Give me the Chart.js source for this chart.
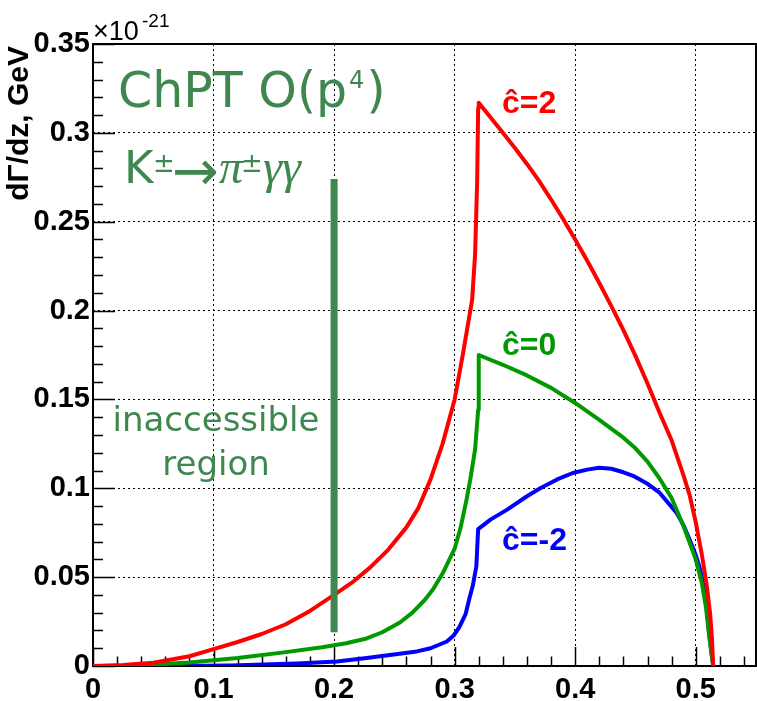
<!DOCTYPE html>
<html><head><meta charset="utf-8">
<script src="https://cdn.jsdelivr.net/npm/chart.js@4.4.1/dist/chart.umd.min.js"></script>
<style>html,body{margin:0;padding:0;background:#fff;overflow:hidden}#wrap{width:757px;height:701px;position:relative}</style>
</head><body><div id="wrap"><canvas id="c" width="757" height="701"></canvas></div>
<script>
// ---- axis definitions ----
const xTicks = [0, 0.1, 0.2, 0.3, 0.4, 0.5];
const xTickLabels = ['0', '0.1', '0.2', '0.3', '0.4', '0.5'];
const yTicks = [0, 0.05, 0.1, 0.15, 0.2, 0.25, 0.3, 0.35];
const yTickLabels = ['0', '0.05', '0.1', '0.15', '0.2', '0.25', '0.3', '0.35'];
const xRange = [0, 0.55];
const yRange = [0, 0.35];
const xMinorStep = 0.02;
const yMinorStep = 0.01;

// ---- series: c^ = 2 (red) ----
const zC2 = [0, 0.025, 0.05, 0.08, 0.10, 0.12, 0.14, 0.16, 0.18, 0.20, 0.215, 0.23, 0.245, 0.26, 0.27, 0.28, 0.29, 0.30, 0.307, 0.3145, 0.317, 0.3187, 0.3195, 0.320,
             0.33, 0.34, 0.35, 0.36, 0.37, 0.38, 0.39, 0.40, 0.41, 0.42, 0.43, 0.44, 0.45, 0.46, 0.47, 0.48, 0.49, 0.495, 0.50, 0.505, 0.509, 0.512, 0.5135, 0.5145];
const yC2 = [0, 0.0006, 0.0018, 0.0055, 0.0095, 0.0135, 0.018, 0.0235, 0.031, 0.040, 0.047, 0.0555, 0.0655, 0.078, 0.089, 0.105, 0.125, 0.150, 0.176, 0.206, 0.232, 0.273, 0.314, 0.317,
             0.3085, 0.300, 0.2915, 0.2825, 0.273, 0.2625, 0.2515, 0.240, 0.228, 0.2155, 0.2025, 0.189, 0.1745, 0.159, 0.1425, 0.127, 0.107, 0.096, 0.081, 0.063, 0.046, 0.029, 0.015, 0];

// ---- series: c^ = 0 (green) ----
const zC0 = [0, 0.03, 0.05, 0.08, 0.12, 0.16, 0.19, 0.21, 0.227, 0.24, 0.2546, 0.265, 0.275, 0.282, 0.29, 0.300, 0.305, 0.310, 0.313, 0.317, 0.3195, 0.3200,
             0.34, 0.36, 0.38, 0.40, 0.42, 0.44, 0.45, 0.46, 0.47, 0.48, 0.49, 0.50, 0.505, 0.5085, 0.511, 0.513, 0.5145];
const yC0 = [0, 0, 0.0008, 0.002, 0.0045, 0.0078, 0.0105, 0.0128, 0.0155, 0.019, 0.0245, 0.030, 0.037, 0.043, 0.052, 0.066, 0.078, 0.094, 0.105, 0.122, 0.144, 0.175,
             0.1695, 0.1635, 0.1565, 0.148, 0.1385, 0.1285, 0.1225, 0.115, 0.1055, 0.0945, 0.0785, 0.060, 0.047, 0.033, 0.018, 0.007, 0];

// ---- series: c^ = -2 (blue) ----
const zCm2 = [0, 0.066, 0.114, 0.169, 0.2025, 0.227, 0.2687, 0.28, 0.2935, 0.299, 0.304, 0.309, 0.3126, 0.315, 0.318, 0.3195,
              0.33, 0.3436, 0.36, 0.371, 0.385, 0.398, 0.41, 0.420, 0.43, 0.44, 0.448, 0.46, 0.470, 0.484, 0.49, 0.495, 0.50, 0.503, 0.508, 0.511, 0.5145];
const yCm2 = [0, 0, 0.0003, 0.0014, 0.0025, 0.0045, 0.0082, 0.010, 0.0138, 0.017, 0.022, 0.029, 0.039, 0.045, 0.056, 0.077,
              0.0825, 0.088, 0.0955, 0.100, 0.105, 0.1086, 0.1105, 0.1115, 0.111, 0.109, 0.107, 0.1025, 0.0975, 0.0863, 0.079, 0.071, 0.0625, 0.056, 0.041, 0.019, 0];

// ---- "inaccessible region" cut line ----
const zCut = [0.2, 0.2];
const yCut = [0.019, 0.274];

const pts = (zs, ys) => zs.map((z, i) => ({x: z, y: ys[i]}));

const ANNOT_GREEN = '#3F874F';

const decorPlugin = {
  id: 'decor',
  beforeDatasetsDraw(chart) {
    const {ctx, chartArea: a, scales: {x, y}} = chart;
    ctx.save();
    ctx.strokeStyle = '#000';
    ctx.lineWidth = 2;
    ctx.strokeRect(a.left, a.top, a.right - a.left, a.bottom - a.top);
    ctx.lineWidth = 1.5;
    ctx.beginPath();
    const nx = Math.round((xRange[1] - xRange[0]) / xMinorStep);
    for (let i = 0; i <= nx; i++) {
      const v = xRange[0] + i * xMinorStep;
      const px = Math.round(x.getPixelForValue(v)) + 0.5;
      const major = xTicks.some(t => Math.abs(t - v) < 1e-9);
      ctx.moveTo(px, a.bottom);
      ctx.lineTo(px, a.bottom - (major ? 19 : 9.5));
    }
    const ny = Math.round((yRange[1] - yRange[0]) / yMinorStep);
    for (let i = 0; i <= ny; i++) {
      const v = yRange[0] + i * yMinorStep;
      const py = Math.round(y.getPixelForValue(v)) + 0.5;
      const major = yTicks.some(t => Math.abs(t - v) < 1e-9);
      ctx.moveTo(a.left, py);
      ctx.lineTo(a.left + (major ? 22 : 10), py);
    }
    ctx.stroke();
    ctx.restore();
  },
  afterDraw(chart) {
    const {ctx} = chart;
    ctx.save();
    ctx.textBaseline = 'alphabetic';
    ctx.fillStyle = '#000';
    ctx.textAlign = 'left';
    ctx.font = '27px "Liberation Sans"';
    ctx.fillText('\u00d710', 93, 40);
    ctx.font = '19px "Liberation Sans"';
    ctx.fillText('-21', 142, 27);
    ctx.save();
    ctx.translate(28, 46);
    ctx.rotate(-Math.PI / 2);
    ctx.textAlign = 'right';
    ctx.font = 'bold 30px "Liberation Sans"';
    ctx.fillText('d\u0393/dz, GeV', 0, 0);
    ctx.restore();

    ctx.fillStyle = ANNOT_GREEN;
    ctx.textAlign = 'left';
    ctx.font = '49px "DejaVu Sans"';
    let s = 'ChPT O(p';
    ctx.fillText(s, 118, 107);
    let xp = 118 + ctx.measureText(s).width + 2;
    ctx.font = '24px "DejaVu Sans"';
    ctx.fillText('4', xp, 88);
    xp += ctx.measureText('4').width + 2;
    ctx.font = '49px "DejaVu Sans"';
    ctx.fillText(')', xp, 107);

    ctx.font = '45px "DejaVu Sans"';
    ctx.fillText('K', 124, 183);
    ctx.font = '26px "DejaVu Sans"';
    ctx.fillText('\u00b1', 153, 172);
    ctx.font = '56px "DejaVu Sans"';
    ctx.fillText('\u2192', 172, 190);
    ctx.font = 'italic 48px "Liberation Serif"';
    ctx.fillText('\u03c0', 219, 183);
    ctx.font = '26px "DejaVu Sans"';
    ctx.fillText('\u00b1', 241, 172);
    ctx.font = 'italic 48px "Liberation Serif"';
    ctx.fillText('\u03b3\u03b3', 263, 183);

    ctx.textAlign = 'center';
    ctx.font = '34px "DejaVu Sans"';
    ctx.fillText('inaccessible', 216, 431);
    ctx.fillText('region', 216, 475);

    ctx.textAlign = 'left';
    ctx.font = 'bold 32px "Liberation Sans"';
    ctx.fillStyle = '#FF0000';
    ctx.fillText('\u0109=2', 502, 113);
    ctx.fillStyle = '#009900';
    ctx.fillText('\u0109=0', 502, 355);
    ctx.fillStyle = '#0000FF';
    ctx.fillText('\u0109=-2', 502, 550);
    ctx.restore();
  }
};

const lineDs = (label, data, color, order, width) => ({
  label, data, borderColor: color, backgroundColor: color, borderWidth: width,
  pointRadius: 0, tension: 0, fill: false, order, borderJoinStyle: 'round', borderCapStyle: 'butt'
});

new Chart(document.getElementById('c'), {
  type: 'line',
  data: {
    datasets: [
      lineDs('cut', pts(zCut, yCut), ANNOT_GREEN, 0, 7),
      lineDs('c=2', pts(zC2, yC2), '#FF0000', 1, 4),
      lineDs('c=0', pts(zC0, yC0), '#009900', 2, 4),
      lineDs('c=-2', pts(zCm2, yCm2), '#0000FF', 3, 4)
    ]
  },
  options: {
    responsive: false,
    animation: false,
    devicePixelRatio: 1,
    layout: {padding: {top: 44, right: 1, left: 0, bottom: 0}},
    plugins: {legend: {display: false}, tooltip: {enabled: false}},
    scales: {
      x: {
        type: 'linear', min: xRange[0], max: xRange[1],
        afterBuildTicks: s => { s.ticks = xTicks.map(v => ({value: v})); },
        afterFit: s => { s.height = 35; },
        grid: {color: '#000', lineWidth: 1, drawTicks: false},
        border: {display: false, dash: [2, 3]},
        ticks: {
          color: '#000', padding: 7, maxRotation: 0, autoSkip: false,
          font: {family: '"Liberation Sans"', size: 29, weight: 'bold'},
          callback: (v) => { const i = xTicks.findIndex(t => Math.abs(t - v) < 1e-9); return i >= 0 ? xTickLabels[i] : ''; }
        }
      },
      y: {
        type: 'linear', min: yRange[0], max: yRange[1],
        afterBuildTicks: s => { s.ticks = yTicks.map(v => ({value: v})); },
        afterFit: s => { s.width = 93; },
        grid: {color: '#000', lineWidth: 1, drawTicks: false},
        border: {display: false, dash: [2, 3]},
        ticks: {
          color: '#000', padding: 3,
          font: {family: '"Liberation Sans"', size: 29, weight: 'bold'},
          callback: (v) => { const i = yTicks.findIndex(t => Math.abs(t - v) < 1e-9); return i >= 0 ? yTickLabels[i] : ''; }
        }
      }
    }
  },
  plugins: [decorPlugin]
});
</script>
</body></html>
